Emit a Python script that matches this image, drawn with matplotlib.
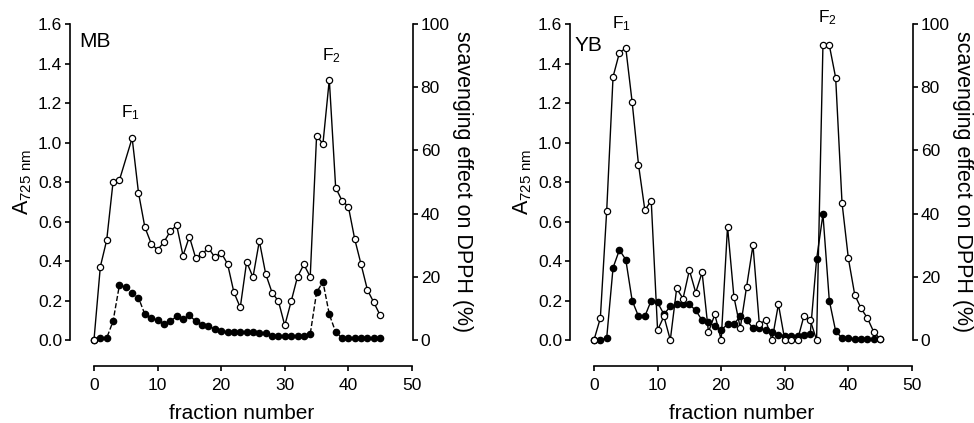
import matplotlib.pyplot as plt

plt.rcParams['font.family'] = ['Liberation Sans', 'DejaVu Sans']
plt.rcParams['mathtext.default'] = 'regular'

# fraction numbers
frac = list(range(46))
frac_mb_open = [0, 1, 2, 3, 4] + list(range(6, 46))

# MB: A725 nm (filled) and DPPH scavenging effect % (open)
mb_a725 = [0.0, 0.01, 0.01, 0.095, 0.278, 0.268, 0.24, 0.214, 0.13, 0.11,
           0.10, 0.08, 0.095, 0.12, 0.105, 0.125, 0.095, 0.075, 0.07, 0.055,
           0.045, 0.04, 0.038, 0.038, 0.038, 0.038, 0.035, 0.035, 0.02, 0.02,
           0.02, 0.02, 0.02, 0.02, 0.03, 0.241, 0.295, 0.13, 0.04, 0.01,
           0.008, 0.008, 0.008, 0.008, 0.008, 0.008]
mb_dpph = [0.0, 23.2, 31.6, 50.0, 50.6, 63.9, 46.6, 35.7, 30.5, 28.5,
           31.0, 34.4, 36.3, 26.7, 32.7, 25.9, 27.2, 29.1, 26.2, 27.6,
           24.1, 15.1, 10.3, 24.7, 19.9, 31.3, 20.9, 15.0, 12.3, 4.6,
           12.2, 20.0, 23.9, 20.0, 64.6, 62.1, 82.4, 48.2, 44.1, 42.2,
           31.9, 23.9, 15.8, 11.9, 7.8]

# YB
yb_a725 = [0.0, 0.0, 0.01, 0.366, 0.456, 0.407, 0.2, 0.12, 0.12, 0.2,
           0.19, 0.13, 0.17, 0.18, 0.18, 0.18, 0.15, 0.1, 0.09, 0.07,
           0.05, 0.08, 0.08, 0.12, 0.1, 0.06, 0.06, 0.05, 0.04, 0.025,
           0.02, 0.02, 0.02, 0.025, 0.03, 0.408, 0.636, 0.2, 0.045, 0.01,
           0.01, 0.005, 0.005, 0.005, 0.005, 0.005]
yb_dpph = [0.0, 6.9, 40.9, 83.3, 90.9, 92.4, 75.3, 55.5, 41.1, 44.1,
           3.1, 7.5, 0.0, 16.3, 13.1, 22.1, 15.0, 21.4, 2.5, 8.1,
           0.0, 35.9, 13.7, 3.8, 16.9, 30.0, 5.0, 6.3, 0.0, 11.3,
           0.0, 0.0, 0.0, 7.5, 6.3, 0.0, 93.3, 93.3, 83.0, 43.4,
           25.8, 14.3, 10.0, 6.9, 2.5, 0.3]

fig = plt.figure(figsize=(9.74, 4.23), dpi=100)


def panel(left, name, xa, a725, xd, dpph, dashed, f1, f2, name_pos):
    ax = fig.add_axes([left, 83 / 423, 343 / 974, 316 / 423])
    ax2 = ax.twinx()
    ax.set_xlim(-3.77, 50.16)
    ax.set_ylim(0, 1.6)
    ax2.set_ylim(0, 100)

    ax2.plot(xd, dpph, '-', color='black', lw=1, marker='o', ms=4.5,
             mfc='white', mec='black', mew=0.9, clip_on=False, zorder=3)
    ax.plot(xa, a725, '--' if dashed else '-', color='black', lw=1,
            marker='o', ms=4.5, mfc='black', mec='black', clip_on=False,
            zorder=3)

    for a in (ax, ax2):
        a.spines['top'].set_visible(False)
        for s in a.spines.values():
            s.set_linewidth(1.2)
    ax.spines['right'].set_visible(False)
    ax2.spines['left'].set_visible(False)
    ax2.spines['bottom'].set_visible(False)
    ax.spines['bottom'].set_position(('outward', 19))
    ax.spines['bottom'].set_bounds(0, 50)
    ax.spines['left'].set_bounds(0, 1.6)
    ax2.spines['right'].set_bounds(0, 100)

    ax.set_xticks(range(0, 51, 10))
    ax.set_yticks([i * 0.2 for i in range(9)])
    ax.set_yticklabels([f'{i * 0.2:.1f}' for i in range(9)])
    ax2.set_yticks(range(0, 101, 20))
    for a in (ax, ax2):
        a.tick_params(direction='out', length=3.5, width=1.2, labelsize=12.5,
                      pad=2)
    ax.tick_params(axis='x', pad=5)

    ax.set_xlabel('fraction number', fontsize=15, labelpad=8)
    ax.set_ylabel(r'A$_{725\ nm}$', fontsize=15.5, labelpad=3)
    ax2.set_ylabel('scavenging effect on DPPH (%)', fontsize=15.5,
                   rotation=-90, labelpad=17)

    ax.text(name_pos[0], name_pos[1], name, fontsize=15, ha='left',
            va='center')
    ax.text(f1[0], f1[1], r'F$_1$', fontsize=12.5, ha='center', va='center')
    ax.text(f2[0], f2[1], r'F$_2$', fontsize=12.5, ha='center', va='center')


panel(70 / 974, 'MB', frac, mb_a725, frac_mb_open, mb_dpph, True,
      (5.8, 1.15), (37.4, 1.44), (-2.3, 1.51))
panel(570 / 974, 'YB', frac, yb_a725, frac, yb_dpph, False,
      (4.4, 1.6), (36.7, 1.63), (-3.0, 1.49))

fig.savefig('out.png', dpi=100)
